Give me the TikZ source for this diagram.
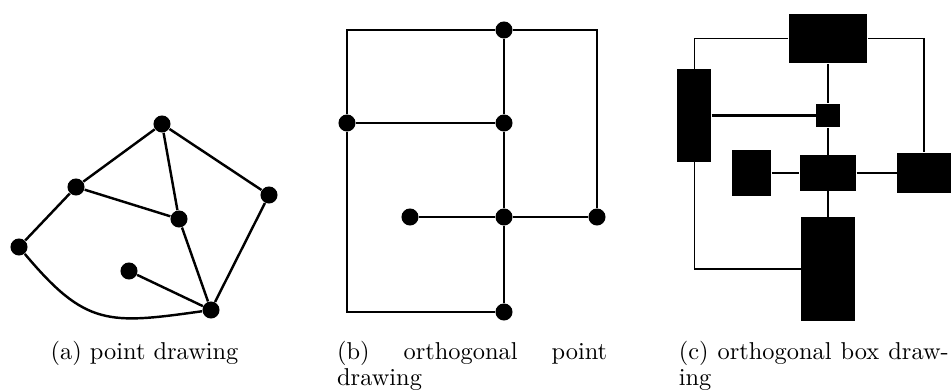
\documentclass[tikz,border=0pt]{standalone}
\begin{document}
\begin{tikzpicture}[x=0.41pt,y=-0.41pt,
  dot/.style={circle,fill=black,inner sep=0pt,minimum size=7pt},
  edge/.style={line width=1pt},
  thinedge/.style={line width=0.5pt},
  blk/.style={rectangle,fill=black,inner sep=0pt},
  captext/.style={inner sep=0pt,text width=110.7pt,font=\fontsize{10}{10.3}\selectfont}]
\useasboundingbox (0,0) rectangle (952,391);
% (a) point drawing
\node[dot] (a1) at (162,124) {};
\node[dot] (a2) at (76,187) {};
\node[dot] (a3) at (269,195) {};
\node[dot] (a4) at (179,219) {};
\node[dot] (a5) at (19,247) {};
\node[dot] (a6) at (129,271) {};
\node[dot] (a7) at (211,310) {};
\draw[edge] (a1) -- (a2);
\draw[edge] (a1) -- (a4);
\draw[edge] (a1) -- (a3);
\draw[edge] (a2) -- (a4);
\draw[edge] (a2) -- (a5);
\draw[edge] (a4) -- (a7);
\draw[edge] (a3) -- (a7);
\draw[edge] (a6) -- (a7);
\draw[edge] (a5) to[out=-50,in=188,looseness=1.3] (a7);
% (b) orthogonal point drawing
\node[dot] (b1) at (504,30) {};
\node[dot] (b2) at (347,123) {};
\node[dot] (b3) at (504,123) {};
\node[dot] (b4) at (410,217) {};
\node[dot] (b5) at (504,217) {};
\node[dot] (b6) at (597,217) {};
\node[dot] (b7) at (504,312) {};
\draw[thinedge] (b1) -| (b2);
\draw[thinedge] (b2) |- (b7);
\draw[thinedge] (b1) -| (b6);
\draw[edge] (b1) -- (b3);
\draw[edge] (b3) -- (b5);
\draw[edge] (b5) -- (b7);
\draw[edge] (b2) -- (b3);
\draw[edge] (b4) -- (b5);
\draw[edge] (b5) -- (b6);
% (c) orthogonal box drawing
\node[blk,minimum width=32.3pt,minimum height=20.2pt] (cT) at (828,38.7) {};
\node[blk,minimum width=13.8pt,minimum height=37.9pt] (cL) at (694.2,115.6) {};
\node[blk,minimum width=9.6pt,minimum height=9.6pt] (cS) at (828,115.6) {};
\node[blk,minimum width=16pt,minimum height=18.9pt] (cLS) at (751.5,173) {};
\node[blk,minimum width=23pt,minimum height=14.6pt] (cC) at (828,173) {};
\node[blk,minimum width=22.1pt,minimum height=16.6pt] (cR) at (924,173) {};
\node[blk,minimum width=22pt,minimum height=42.4pt] (cB) at (828,269) {};
\draw[thinedge] (cT.west) -| (cL.north);
\draw[thinedge] (cT.east) -| (cR.north);
\draw[thinedge] (cL.south) |- (cB.west);
\draw[edge] (cT) -- (cS);
\draw[edge] (cS) -- (cC);
\draw[edge] (cC) -- (cB);
\draw[edge] (cL) -- (cS);
\draw[edge] (cLS) -- (cC);
\draw[edge] (cC) -- (cR);
% captions
\node[captext,align=center,anchor=base] (capa) at (144.5,360) {(a) point drawing};
\node[captext,align=left,anchor=base west] (capb) at (336.7,360) {(b)\hfill orthogonal\hfill point\\drawing};
\node[captext,align=left,anchor=base west] (capc) at (678.3,360) {(c)\hfill orthogonal\hfill box\hfill draw-\\ing};
\end{tikzpicture}
\end{document}
